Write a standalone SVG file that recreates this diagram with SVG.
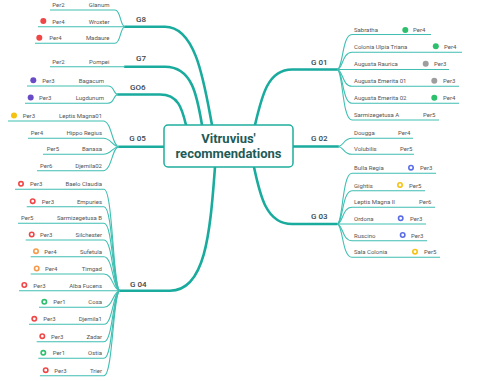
<svg xmlns="http://www.w3.org/2000/svg" width="480" height="381" viewBox="0 0 480 381">
<style>
.br{fill:none;stroke:#19ab9d;stroke-width:2.6;stroke-linecap:round}
.lf{fill:none;stroke:#3fbfb2;stroke-width:1.1}
.t{font-family:Roboto,"Liberation Sans",sans-serif;font-size:6px;fill:#555}
.r{text-anchor:end}
.g{font-family:Roboto,"Liberation Sans",sans-serif;font-size:8px;font-weight:500;fill:#37474f}
.title{font-family:Roboto,"Liberation Sans",sans-serif;font-size:13px;font-weight:bold;fill:#1f5b57;text-anchor:middle}
.red{fill:#f04646}.pur{fill:#6a4bc6}.yel{fill:#f5c211}.grn{fill:#2cbf6c}.gry{fill:#9e9e9e}
.rr{fill:#fff;stroke:#f04646;stroke-width:1.6}.ro{fill:#fff;stroke:#f59a4a;stroke-width:1.6}
.rg{fill:#fff;stroke:#2cbf6c;stroke-width:1.6}.rb{fill:#fff;stroke:#5b6ee6;stroke-width:1.6}
.ry{fill:#fff;stroke:#f5c211;stroke-width:1.6}
</style>
<g id="connectors">
<path class="br" d="M212,125 C204,82 196,26.7 165,26.7 L125,26.7"/>
<path class="br" d="M202,125 C197,95 192,66.7 165,66.7 L125,66.7"/>
<path class="br" d="M186,125 C182,108 178,94.5 160,94.5 L118,94.5"/>
<path class="br" d="M164,146.7 L119,146.7"/>
<path class="br" d="M215,167 C210,235 205,290.7 170,290.7 L120,290.7"/>
<path class="br" d="M255,125 C262,95 268,69.5 292,69.5 L337,69.5"/>
<path class="br" d="M293,146.5 L338,146.5"/>
<path class="br" d="M254,167 C260,195 266,224 292,224 L337,224"/>
<!-- G8 leaves -->
<path class="lf" d="M125,26.7 C120,26.7 121,10 115,10 L50,10"/>
<path class="lf" d="M125,26.7 L38,26.7"/>
<path class="lf" d="M125,26.7 C120,26.7 121,43.3 115,43.3 L35,43.3"/>
<!-- G7 -->
<path class="lf" d="M125,66.7 L50,66.7"/>
<!-- GO6 -->
<path class="lf" d="M118,94.5 C113,94.5 115,86 108,86 L27,86"/>
<path class="lf" d="M118,94.5 C113,94.5 115,103.3 108,103.3 L25,103.3"/>
<!-- G05 -->
<path class="lf" d="M119,146.7 C112,146.7 112,121 103,121 L8,121"/>
<path class="lf" d="M119,146.7 C112,146.7 112,138.3 103,138.3 L28,138.3"/>
<path class="lf" d="M119,146.7 C112,146.7 112,154.3 103,154.3 L43,154.3"/>
<path class="lf" d="M119,146.7 C112,146.7 112,170.7 103,170.7 L37,170.7"/>
<!-- G04 -->
<path class="lf" d="M120,290.7 C113,290.7 113,189.3 104,189.3 L15,189.3"/>
<path class="lf" d="M120,290.7 C113,290.7 113,206.7 104,206.7 L26.7,206.7"/>
<path class="lf" d="M120,290.7 C113,290.7 113,223.3 104,223.3 L18,223.3"/>
<path class="lf" d="M120,290.7 C113,290.7 113,240 104,240 L25.7,240"/>
<path class="lf" d="M120,290.7 C113,290.7 113,256.7 104,256.7 L30.7,256.7"/>
<path class="lf" d="M120,290.7 C113,290.7 113,274 104,274 L30.7,274"/>
<path class="lf" d="M120,290.7 L19,290.7"/>
<path class="lf" d="M120,290.7 C113,290.7 113,307.3 104,307.3 L39,307.3"/>
<path class="lf" d="M120,290.7 C113,290.7 113,324.3 104,324.3 L29,324.3"/>
<path class="lf" d="M120,290.7 C113,290.7 113,341.7 104,341.7 L36.7,341.7"/>
<path class="lf" d="M120,290.7 C113,290.7 113,358.3 104,358.3 L38.3,358.3"/>
<path class="lf" d="M120,290.7 C113,290.7 113,375.7 104,375.7 L40,375.7"/>
<!-- G01 -->
<path class="lf" d="M337,69.5 C343,69.5 342,34.5 352,34.5 L431,34.5"/>
<path class="lf" d="M337,69.5 C343,69.5 342,52.3 352,52.3 L462,52.3"/>
<path class="lf" d="M337,69.5 L449,69.5"/>
<path class="lf" d="M337,69.5 C343,69.5 342,86.3 352,86.3 L459,86.3"/>
<path class="lf" d="M337,69.5 C343,69.5 342,103.3 352,103.3 L459,103.3"/>
<path class="lf" d="M337,69.5 C343,69.5 342,120 352,120 L439,120"/>
<!-- G02 -->
<path class="lf" d="M338,146.5 C344,146.5 343,138.3 352,138.3 L413,138.3"/>
<path class="lf" d="M338,146.5 C344,146.5 343,154.3 352,154.3 L414,154.3"/>
<!-- G03 -->
<path class="lf" d="M337,224 C343,224 342,173.3 352,173.3 L436,173.3"/>
<path class="lf" d="M337,224 C343,224 342,190.7 352,190.7 L425,190.7"/>
<path class="lf" d="M337,224 C343,224 342,207.3 352,207.3 L435,207.3"/>
<path class="lf" d="M337,224 L426,224"/>
<path class="lf" d="M337,224 C343,224 342,240.7 352,240.7 L427,240.7"/>
<path class="lf" d="M337,224 C343,224 342,257.3 352,257.3 L440,257.3"/>
</g>
<g id="root">
<rect x="164" y="125" width="129" height="42" rx="4" fill="#fff" stroke="#1fae9f" stroke-width="1.5"/>
<text class="title" x="228.5" y="143.3">Vitruvius'</text>
<text class="title" x="228.5" y="158.3">recommendations</text>
</g>
<g id="G8">
<text class="g" x="136" y="22">G8</text>
<text class="t r" x="109.5" y="7">Glanum</text><text class="t" x="52.3" y="7">Per2</text>
<text class="t r" x="109.5" y="23.7">Wroxter</text><circle class="red" cx="43.3" cy="21" r="3"/><text class="t" x="52.3" y="23.7">Per4</text>
<text class="t r" x="109.5" y="40.3">Madaure</text><circle class="red" cx="39.3" cy="37.8" r="3"/><text class="t" x="49.3" y="40.3">Per4</text>
</g>
<g id="G7">
<text class="g" x="136" y="61.3">G7</text>
<text class="t r" x="109.5" y="63.7">Pompei</text><text class="t" x="52.3" y="63.7">Per2</text>
</g>
<g id="GO6">
<text class="g" x="130" y="89.7">GO6</text>
<text class="t r" x="104" y="83">Bagacum</text><circle class="pur" cx="33.3" cy="80.3" r="3"/><text class="t" x="42.3" y="83">Per3</text>
<text class="t r" x="104" y="100.3">Lugdunum</text><circle class="pur" cx="30.7" cy="97.6" r="3"/><text class="t" x="39" y="100.3">Per3</text>
</g>
<g id="G05">
<text class="g" x="129.3" y="141.3">G 05</text>
<text class="t r" x="102" y="118">Leptis Magna01</text><circle class="yel" cx="14" cy="115.5" r="3"/><text class="t" x="22.7" y="118">Per3</text>
<text class="t r" x="102" y="135.3">Hippo Regius</text><text class="t" x="30.7" y="135.3">Per4</text>
<text class="t r" x="102" y="151.3">Banasa</text><text class="t" x="46.7" y="151.3">Per5</text>
<text class="t r" x="102" y="167.7">Djemila02</text><text class="t" x="40" y="167.7">Per6</text>
</g>
<g id="G04">
<text class="g" x="130" y="287">G 04</text>
<text class="t r" x="102" y="186.3">Baelo Claudia</text><circle class="rr" cx="21" cy="183.8" r="2.2"/><text class="t" x="30" y="186.3">Per3</text>
<text class="t r" x="102" y="203.7">Empuries</text><circle class="rr" cx="32.7" cy="201.2" r="2.2"/><text class="t" x="41.7" y="203.7">Per3</text>
<text class="t r" x="102" y="220.3">Sarmizegetusa B</text><text class="t" x="21" y="220.3">Per5</text>
<text class="t r" x="102" y="237">Silchester</text><circle class="rr" cx="31.7" cy="234.5" r="2.2"/><text class="t" x="40" y="237">Per3</text>
<text class="t r" x="102" y="253.7">Sufetula</text><circle class="ro" cx="36" cy="251.2" r="2.2"/><text class="t" x="44.3" y="253.7">Per4</text>
<text class="t r" x="102" y="271">Timgad</text><circle class="ro" cx="36.7" cy="268.5" r="2.2"/><text class="t" x="45" y="271">Per4</text>
<text class="t r" x="102" y="287.5">Alba Fucens</text><circle class="rr" cx="24.3" cy="285" r="2.2"/><text class="t" x="33.3" y="287.5">Per3</text>
<text class="t r" x="102" y="304.3">Cosa</text><circle class="rg" cx="44.3" cy="301.8" r="2.2"/><text class="t" x="53.3" y="304.3">Per1</text>
<text class="t r" x="102" y="321.3">Djemila1</text><circle class="rr" cx="34.3" cy="318.8" r="2.2"/><text class="t" x="43.3" y="321.3">Per3</text>
<text class="t r" x="102" y="338.7">Zadar</text><circle class="rr" cx="42.3" cy="336.2" r="2.2"/><text class="t" x="51" y="338.7">Per3</text>
<text class="t r" x="102" y="355.3">Ostia</text><circle class="rg" cx="43.3" cy="352.8" r="2.2"/><text class="t" x="52.7" y="355.3">Per1</text>
<text class="t r" x="102" y="372.7">Trier</text><circle class="rr" cx="45.7" cy="370.2" r="2.2"/><text class="t" x="54.3" y="372.7">Per3</text>
</g>
<g id="G01">
<text class="g" x="311" y="65">G 01</text>
<text class="t" x="354" y="32.3">Sabratha</text><circle class="grn" cx="405.3" cy="30" r="3"/><text class="t" x="413" y="32.3">Per4</text>
<text class="t" x="354" y="49">Colonia Ulpia Triana</text><circle class="grn" cx="435.8" cy="46.3" r="3"/><text class="t" x="444" y="49">Per4</text>
<text class="t" x="354" y="66.3">Augusta Raurica</text><circle class="gry" cx="425.7" cy="63.7" r="3"/><text class="t" x="434" y="66.3">Per3</text>
<text class="t" x="354" y="83.3">Augusta Emerita 01</text><circle class="gry" cx="434.3" cy="80.7" r="3"/><text class="t" x="443" y="83.3">Per3</text>
<text class="t" x="354" y="100.3">Augusta Emerita 02</text><circle class="grn" cx="434.3" cy="97.7" r="3"/><text class="t" x="443" y="100.3">Per4</text>
<text class="t" x="354" y="117">Sarmizegetusa A</text><text class="t" x="423" y="117">Per5</text>
</g>
<g id="G02">
<text class="g" x="311" y="141">G 02</text>
<text class="t" x="354" y="135.3">Dougga</text><text class="t" x="398" y="135.3">Per4</text>
<text class="t" x="354" y="151.3">Volubilis</text><text class="t" x="400" y="151.3">Per5</text>
</g>
<g id="G03">
<text class="g" x="311" y="218.7">G 03</text>
<text class="t" x="354" y="170.3">Bulla Regia</text><circle class="rb" cx="411" cy="167.7" r="2.2"/><text class="t" x="420" y="170.3">Per3</text>
<text class="t" x="354" y="187.7">Gightis</text><circle class="ry" cx="400" cy="185" r="2.2"/><text class="t" x="409" y="187.7">Per5</text>
<text class="t" x="354" y="204.3">Leptis Magna II</text><text class="t" x="419" y="204.3">Per6</text>
<text class="t" x="354" y="221">Ordona</text><circle class="rb" cx="400.7" cy="218.3" r="2.2"/><text class="t" x="410" y="221">Per3</text>
<text class="t" x="354" y="237.7">Ruscino</text><circle class="rb" cx="402.7" cy="235" r="2.2"/><text class="t" x="411" y="237.7">Per3</text>
<text class="t" x="354" y="254.3">Sala Colonia</text><circle class="ry" cx="415" cy="251.7" r="2.2"/><text class="t" x="424" y="254.3">Per5</text>
</g>
</svg>
